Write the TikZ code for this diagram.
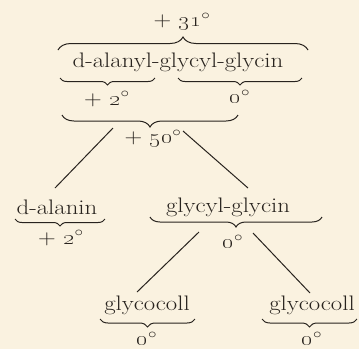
\documentclass[tikz,border=0pt]{standalone}
\usepackage{graphicx}
\usetikzlibrary{decorations.pathreplacing}
\definecolor{paper}{RGB}{250,242,224}
\definecolor{ink}{RGB}{40,35,30}
\newcommand{\degsym}{$^{\circ}$}
\newcommand{\wtxt}[1]{\scalebox{1.18}[1]{#1}}
\tikzset{
  lbl/.style={inner sep=0pt, text=ink, font=\fontsize{21}{24}\selectfont},
  brc/.style={draw=ink, line width=1pt, decorate, decoration={brace, amplitude=#1}},
  link/.style={draw=ink, line width=1pt}
}
\begin{document}
\begin{tikzpicture}[x=1pt,y=-1pt]
\fill[paper] (0,0) rectangle (359,349);
\useasboundingbox (0,0) rectangle (359,349);
% texts
\node[lbl] (t31) at (182,22) {\wtxt{$+$ \oldstylenums{31}\degsym}};
\node[lbl] (main) at (178,62) {\wtxt{d-alanyl-glycyl-glycin}};
\node[lbl] (p2a) at (107,99) {\wtxt{$+$ \oldstylenums{2}\degsym}};
\node[lbl] (z0a) at (240,97) {\wtxt{\oldstylenums{0}\degsym}};
\node[lbl] (p50) at (153,139) {\wtxt{$+$ \oldstylenums{50}\degsym}};
\node[lbl] (alanin) at (57,207) {\wtxt{d-alanin}};
\node[lbl] (gg) at (228,207) {\wtxt{glycyl-glycin}};
\node[lbl] (p2b) at (61,238) {\wtxt{$+$ \oldstylenums{2}\degsym}};
\node[lbl] (z0b) at (233,242) {\wtxt{\oldstylenums{0}\degsym}};
\node[lbl] (gc1) at (147,305) {\wtxt{glycocoll}};
\node[lbl] (gc2) at (312,305) {\wtxt{glycocoll}};
\node[lbl] (z0c) at (147,339) {\wtxt{\oldstylenums{0}\degsym}};
\node[lbl] (z0d) at (312,339) {\wtxt{\oldstylenums{0}\degsym}};
% braces
\draw[brc=13pt] (58,50) -- (308,50);
\draw[brc=7pt] (155,78) -- (60,78);
\draw[brc=7pt] (302,78) -- (178,78);
\draw[brc=12pt] (238,115) -- (62,115);
\draw[brc=7pt] (105,219) -- (15,219);
\draw[brc=10pt] (322,217) -- (150,217);
\draw[brc=8pt] (195,319) -- (100,319);
\draw[brc=8pt] (357,319) -- (262,319);
% connectors
\coordinate (l1a) at (113,128); \coordinate (l1b) at (55,188);
\coordinate (l2a) at (183,131); \coordinate (l2b) at (248,188);
\coordinate (l3a) at (199,232); \coordinate (l3b) at (137,292);
\coordinate (l4a) at (253,233); \coordinate (l4b) at (310,293);
\draw[link] (l1a) -- (l1b);
\draw[link] (l2a) -- (l2b);
\draw[link] (l3a) -- (l3b);
\draw[link] (l4a) -- (l4b);
\end{tikzpicture}
\end{document}
